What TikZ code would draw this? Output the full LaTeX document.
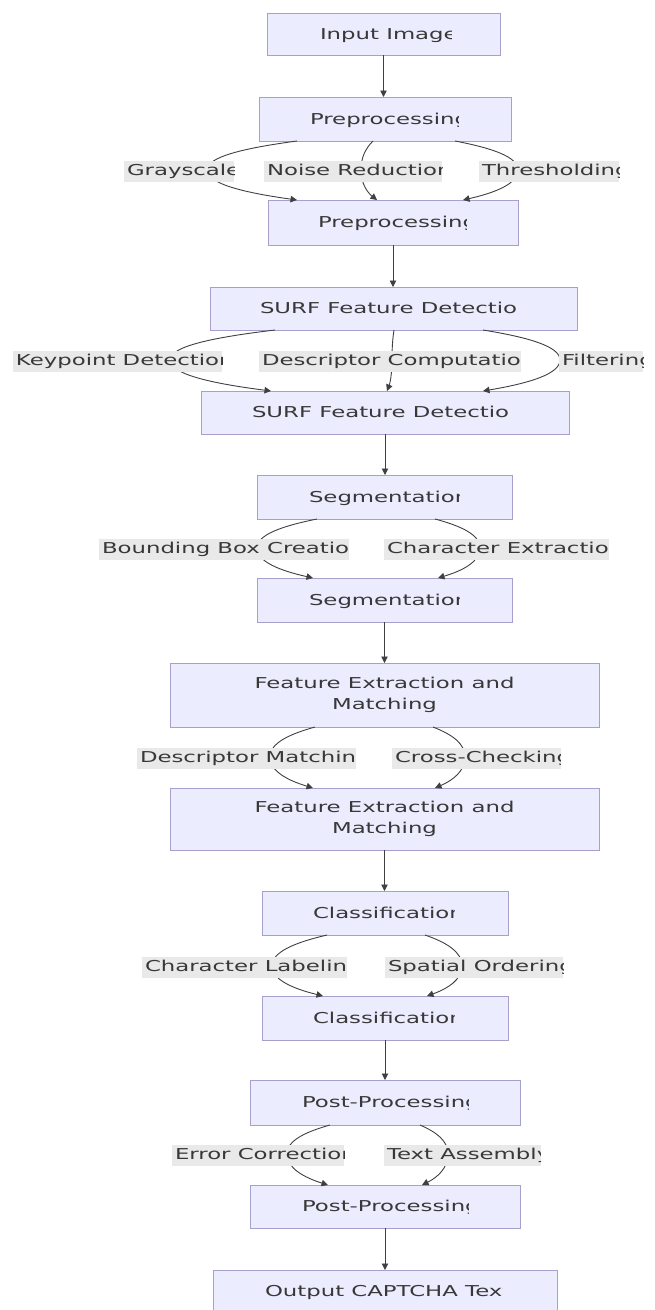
\documentclass[tikz,border=0pt]{standalone}
\usepackage{fontspec}
\setmainfont{DejaVu Sans}[FakeStretch=1.52]
\usetikzlibrary{arrows.meta,calc}
\definecolor{boxfill}{HTML}{ECECFF}
\definecolor{boxdraw}{HTML}{A7A0CC}
\definecolor{lblfill}{HTML}{E9E9E9}
\definecolor{txtcol}{HTML}{383838}
\definecolor{edgecol}{HTML}{404040}
\newcommand{\lblfont}{\fontsize{15}{21}\selectfont}
\tikzset{
  box/.style={draw=boxdraw, fill=boxfill, line width=0.8pt, inner sep=0pt, outer sep=0pt},
  txt/.style={inner sep=0pt, outer sep=0pt, text=txtcol, font=\lblfont},
  edge/.style={draw=edgecol, line width=0.9pt, -{Triangle[length=6.5pt,width=6.5pt]}},
}
% clipped text: name, left x, y, visible part, hidden part, extra visible px
\newcommand{\ctext}[6]{%
  \node[txt, anchor=base west] (#1v) at (#2,#3+5.3) {\phantom{#4}\vphantom{Agy}};
  \begin{scope}
    \clip ($(#1v.west)+(-3,-12)$) rectangle ($(#1v.east)+(#6,12)$);
    \node[txt, anchor=base west] (#1) at (#2,#3+5.3) {#4#5};
  \end{scope}}
\newcommand{\elabel}[6]{%
  \node[txt, anchor=base west] (#1v) at (#2,#3+5.3) {\phantom{#4}\vphantom{Agy}};
  \fill[lblfill] ($(#1v.west)+(-3,-10.5)$) rectangle ($(#1v.east)+(#6,10.5)$);
  \begin{scope}
    \clip ($(#1v.west)+(-3,-12)$) rectangle ($(#1v.east)+(#6,12)$);
    \node[txt, anchor=base west] (#1) at (#2,#3+5.3) {#4#5};
  \end{scope}}
% curved edge through a label point
\newcommand{\lcurve}[5]{%
  \draw[edge] let \p1=([xshift=#2pt]#1.south), \p2=(#3), \p3=([xshift=#5pt]#4.north) in
   (\p1) .. controls ({\x1+0.6*(\x2-\x1)},{\y1+0.25*(\y2-\y1)}) and (\x2,{\y2+0.45*(\y1-\y2)}) .. (\p2)
   .. controls (\x2,{\y2+0.45*(\y3-\y2)}) and ({\x3+0.6*(\x2-\x3)},{\y3+0.25*(\y2-\y3)}) .. (\p3);}
\begin{document}
\begin{tikzpicture}[x=1pt,y=-1pt]
\useasboundingbox (0,0) rectangle (654,1310);
\clip (0,0) rectangle (654,1310);

% boxes
\node[box, minimum width=233pt, minimum height=42pt] (in) at (383.5,34) {};
\node[box, minimum width=252pt, minimum height=44pt] (pre1) at (385,119) {};
\node[box, minimum width=250pt, minimum height=45pt] (pre2) at (393,222.5) {};
\node[box, minimum width=367pt, minimum height=43pt] (surf1) at (393.5,308.5) {};
\node[box, minimum width=368pt, minimum height=43pt] (surf2) at (385,412.5) {};
\node[box, minimum width=255pt, minimum height=44pt] (seg1) at (384.5,497) {};
\node[box, minimum width=255pt, minimum height=44pt] (seg2) at (384.5,600) {};
\node[box, minimum width=429pt, minimum height=64pt, font=\lblfont, text=txtcol, align=center] (fe1) at (384.5,695) {Feature Extraction and\\Matching};
\node[box, minimum width=429pt, minimum height=62pt, font=\lblfont, text=txtcol, align=center] (fe2) at (384.5,819) {Feature Extraction and\\Matching};
\node[box, minimum width=246pt, minimum height=44pt] (class1) at (385,913) {};
\node[box, minimum width=246pt, minimum height=44pt] (class2) at (385,1018) {};
\node[box, minimum width=270pt, minimum height=45pt] (post1) at (385,1102.5) {};
\node[box, minimum width=270pt, minimum height=43pt] (post2) at (385,1206.5) {};
\node[box, minimum width=344pt, minimum height=42pt] (out) at (385,1291) {};

% box texts
\ctext{tin}{320}{34}{Input Imag}{e}{8}
\ctext{tpre1}{310}{119}{Preprocessin}{g}{4}
\ctext{tpre2}{318}{222.5}{Preprocessin}{g}{4}
\ctext{tsurf1}{260}{308.5}{SURF Feature Detectio}{n}{0}
\ctext{tsurf2}{252}{412.5}{SURF Feature Detectio}{n}{0}
\ctext{tseg1}{309}{497}{Segmentatio}{n}{5}
\ctext{tseg2}{309}{600}{Segmentatio}{n}{5}
\ctext{tcl1}{313}{913}{Classificatio}{n}{5}
\ctext{tcl2}{313}{1018}{Classificatio}{n}{5}
\ctext{tpo1}{302}{1102.5}{Post-Processin}{g}{3}
\ctext{tpo2}{302}{1206.5}{Post-Processin}{g}{3}
\ctext{tout}{265}{1291}{Output CAPTCHA Tex}{t}{0}

% straight edges
\draw[edge] (in.south) -- (in.south |- pre1.north);
\draw[edge] (pre2.south) -- (pre2.south |- surf1.north);
\draw[edge] (surf2.south) -- (surf2.south |- seg1.north);
\draw[edge] (seg2.south) -- (seg2.south |- fe1.north);
\draw[edge] (fe2.south) -- (fe2.south |- class1.north);
\draw[edge] (class2.south) -- (class2.south |- post1.north);
\draw[edge] (post2.south) -- (post2.south |- out.north);

% label points
\coordinate (mA1) at (207,170);
\coordinate (mA2) at (361,170);
\coordinate (mA3) at (518,170);
\coordinate (mB1) at (170,360);
\coordinate (mB2) at (392,360);
\coordinate (mB3) at (560,360);
\coordinate (mC1) at (257,548);
\coordinate (mC2) at (480,548);
\coordinate (mD1) at (270,757);
\coordinate (mD2) at (465,757);
\coordinate (mE1) at (272,966);
\coordinate (mE2) at (462,966);
\coordinate (mF1) at (287,1154);
\coordinate (mF2) at (448,1154);

% curved edges
\lcurve{pre1}{-88}{mA1}{pre2}{-96}
\lcurve{pre1}{-12}{mA2}{pre2}{-16}
\lcurve{pre1}{70}{mA3}{pre2}{70}
\lcurve{surf1}{-118.5}{mB1}{surf2}{-114}
\lcurve{surf1}{0.5}{mB2}{surf2}{2}
\lcurve{surf1}{89.5}{mB3}{surf2}{98}
\lcurve{seg1}{-67.5}{mC1}{seg2}{-71.5}
\lcurve{seg1}{50.5}{mC2}{seg2}{53.5}
\lcurve{fe1}{-69.5}{mD1}{fe2}{-71.5}
\lcurve{fe1}{48.5}{mD2}{fe2}{50.5}
\lcurve{class1}{-58}{mE1}{class2}{-62}
\lcurve{class1}{40}{mE2}{class2}{42}
\lcurve{post1}{-55}{mF1}{post2}{-57}
\lcurve{post1}{35}{mF2}{post2}{37}

% edge labels
\elabel{lgray}{127}{170}{Grayscal}{e}{8}
\elabel{lnoise}{267}{170}{Noise Reductio}{n}{5}
\elabel{lthr}{482}{170}{Thresholdin}{g}{4}
\elabel{lkey}{16}{360}{Keypoint Detectio}{n}{3}
\elabel{ldesc}{262}{360}{Descriptor Computatio}{n}{0}
\elabel{lfil}{562}{360}{Filterin}{g}{4}
\elabel{lbb}{102}{548}{Bounding Box Creatio}{n}{0}
\elabel{lce}{387}{548}{Character Extractio}{n}{0}
\elabel{ldm}{140}{757}{Descriptor Matchin}{g}{0}
\elabel{lcc}{395}{757}{Cross-Checkin}{g}{4}
\elabel{lcl}{145}{966}{Character Labelin}{g}{0}
\elabel{lso}{388}{966}{Spatial Orderin}{g}{4}
\elabel{lec}{175}{1154}{Error Correctio}{n}{3}
\elabel{lta}{387}{1154}{Text Assembl}{y}{4}
\end{tikzpicture}
\end{document}
